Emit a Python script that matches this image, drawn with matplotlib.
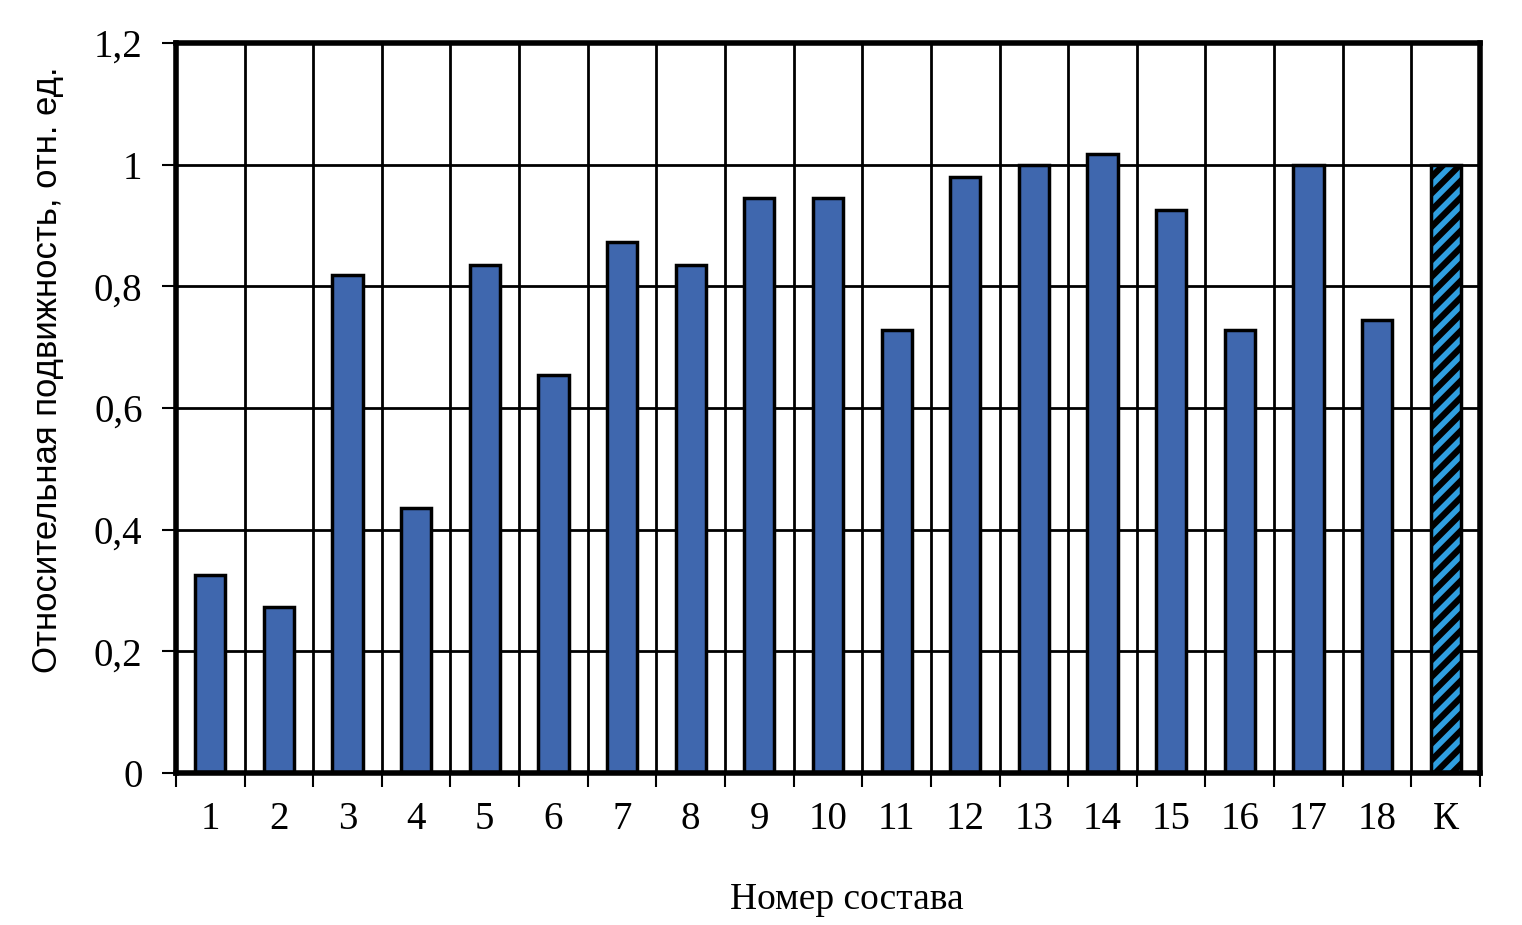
import matplotlib
matplotlib.use("Agg")
import matplotlib.pyplot as plt
import numpy as np

categories = ["1", "2", "3", "4", "5", "6", "7", "8", "9", "10", "11", "12",
              "13", "14", "15", "16", "17", "18", "К"]
values = [0.325, 0.273, 0.819, 0.436, 0.835, 0.654, 0.873, 0.835, 0.945, 0.945,
          0.728, 0.980, 1.000, 1.018, 0.925, 0.728, 1.000, 0.745, 1.000]
yticks = [0, 0.2, 0.4, 0.6, 0.8, 1.0, 1.2]
ytick_labels = ["0", "0,2", "0,4", "0,6", "0,8", "1", "1,2"]

plt.rcParams['font.family'] = ['Liberation Serif', 'DejaVu Serif']
plt.rcParams['hatch.linewidth'] = 4.0

fig = plt.figure(figsize=(15.22, 9.25), dpi=100)
ax = fig.add_axes([0.1156, 0.1643, 0.8568, 0.7892])

x = np.arange(len(categories))
w = 0.44
ax.bar(x[:-1], values[:-1], width=w, color="#3f67ae", edgecolor="black", linewidth=2.5, zorder=3)
# control bar: black with blue diagonal stripes
ax.bar(x[-1:], values[-1:], width=w, color="black", edgecolor="#2f9fe0", hatch="//",
       linewidth=0, zorder=3)
ax.bar(x[-1:], values[-1:], width=w, fill=False, edgecolor="black", linewidth=2.5, zorder=4)

ax.set_xlim(-0.5, len(categories) - 0.5)
ax.set_ylim(0, 1.2)
ax.set_yticks(yticks)
ax.set_yticklabels(ytick_labels)
ax.set_xticks(x)
ax.set_xticklabels(categories)
ax.set_xticks(np.arange(-0.5, len(categories), 1.0), minor=True)

ax.grid(axis="y", which="major", color="black", linewidth=2, zorder=1)
ax.grid(axis="x", which="minor", color="black", linewidth=2, zorder=1)
ax.tick_params(axis="x", which="major", length=0, labelsize=28, pad=20)
ax.tick_params(axis="x", which="minor", length=10, width=1.5, direction="out")
ax.tick_params(axis="y", which="major", length=10, width=1.5, direction="out", labelsize=28, pad=14)

for s in ax.spines.values():
    s.set_linewidth(4)
    s.set_zorder(5)

fig.text(847 / 1522, 1 - 900 / 925, "Номер состава", fontsize=27,
         ha="center", va="center")
fig.text(48 / 1522, 1 - 370 / 925, "Относительная подвижность, отн. ед.", fontsize=25,
         family=["Liberation Sans", "DejaVu Sans"], rotation=90, ha="center", va="center")

fig.savefig("out.png", dpi=100)
